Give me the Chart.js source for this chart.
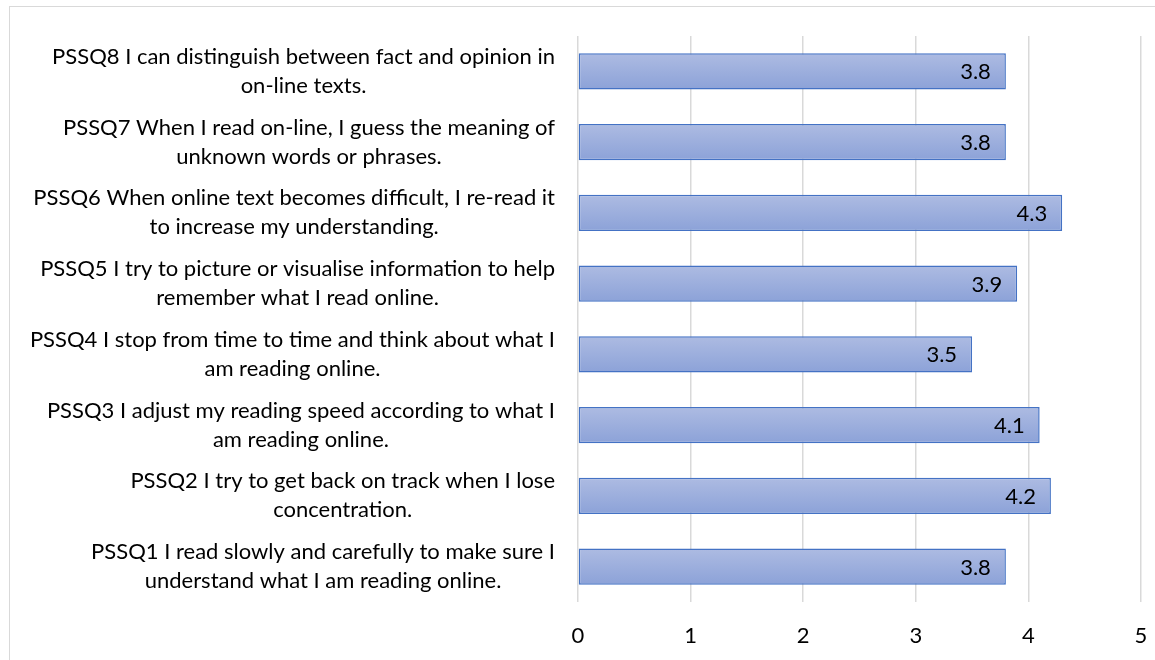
<!DOCTYPE html>
<html>
<head>
<meta charset="utf-8">
<script src="https://cdn.jsdelivr.net/npm/chart.js@4.4.1/dist/chart.umd.min.js"></script>
<style>
    html, body { margin: 0; padding: 0; background: #fff; overflow: hidden; }
    #wrap { position: relative; width: 1155px; height: 660px; overflow: hidden; }
    #frame {
        position: absolute; left: 9px; top: 6px; width: 1300px; height: 800px;
        border: 1.5px solid #d9d9d9; box-sizing: border-box;
    }
    #chart { position: absolute; left: 0; top: 0; }
</style>
</head>
<body>
<div id="wrap">
    <div id="frame"></div>
    <canvas id="chart" width="1155" height="660"></canvas>
</div>
<script>
// categories, bottom to top as in the source sheet
const categories = [
    ['PSSQ1 I read slowly and carefully to make sure I', 'understand what I am reading online.'],
    ['PSSQ2 I try to get back on track when I lose', 'concentration.'],
    ['PSSQ3 I adjust my reading speed according to what I', 'am reading online.'],
    ['PSSQ4 I stop from time to time and think about what I', 'am reading online.'],
    ['PSSQ5 I try to picture or visualise information to help', 'remember what I read online.'],
    ['PSSQ6 When online text becomes difficult, I re-read it', 'to increase my understanding.'],
    ['PSSQ7 When I read on-line, I guess the meaning of', 'unknown words or phrases.'],
    ['PSSQ8 I can distinguish between fact and opinion in', 'on-line texts.']
];
const meanScores = [3.8, 4.2, 4.1, 3.5, 3.9, 4.3, 3.8, 3.8];
const xTicks = [0, 1, 2, 3, 4, 5];

const FONT = 'Lato, "Open Sans", sans-serif';
const FONT_SIZE = 22;
const BAR_PCT = 0.51;

// gradient fill for each bar, light at top, darker at bottom
function barFill(ctx) {
    const chart = ctx.chart;
    const area = chart.chartArea;
    if (!area) return '#9aaedd';
    const yScale = chart.scales.y;
    const cy = yScale.getPixelForValue(ctx.dataIndex);
    const half = (area.height / categories.length) * BAR_PCT / 2;
    const g = chart.ctx.createLinearGradient(0, cy - half, 0, cy + half);
    g.addColorStop(0, '#adbbe2');
    g.addColorStop(1, '#8ca2d8');
    return g;
}

// category labels: block right-aligned, lines centred on each other
const categoryLabels = {
    id: 'categoryLabels',
    afterDraw(chart) {
        const c = chart.ctx;
        const yScale = chart.scales.y;
        const right = chart.chartArea.left - 23;
        const lh = 29;
        c.save();
        c.font = FONT_SIZE + 'px ' + FONT;
        c.fillStyle = '#000';
        c.textAlign = 'center';
        c.textBaseline = 'middle';
        categories.forEach((lines, i) => {
            const cy = yScale.getPixelForValue(i);
            const maxW = Math.max(...lines.map(l => c.measureText(l).width));
            const cx = right - maxW / 2;
            lines.forEach((l, k) => {
                c.fillText(l, cx, cy + (k - (lines.length - 1) / 2) * lh);
            });
        });
        c.restore();
    }
};

// value labels inside the end of each bar
const valueLabels = {
    id: 'valueLabels',
    afterDatasetsDraw(chart) {
        const c = chart.ctx;
        const meta = chart.getDatasetMeta(0);
        c.save();
        c.font = FONT_SIZE + 'px ' + FONT;
        c.fillStyle = '#000';
        c.textAlign = 'right';
        c.textBaseline = 'middle';
        meta.data.forEach((bar, i) => {
            c.fillText(meanScores[i].toFixed(1), bar.x - 15, bar.y + 1);
        });
        c.restore();
    }
};

new Chart(document.getElementById('chart'), {
    type: 'bar',
    data: {
        labels: categories,
        datasets: [{
            data: meanScores,
            backgroundColor: barFill,
            borderColor: '#4472c4',
            borderWidth: 1.5,
            borderSkipped: false,
            categoryPercentage: 1,
            barPercentage: BAR_PCT
        }]
    },
    options: {
        indexAxis: 'y',
        responsive: false,
        animation: false,
        layout: { padding: { left: 0, right: 0, top: 36, bottom: 0 } },
        plugins: { legend: { display: false }, tooltip: { enabled: false } },
        scales: {
            x: {
                min: 0,
                max: 5,
                afterBuildTicks(scale) { scale.ticks = xTicks.map(v => ({ value: v })); },
                afterFit(scale) { scale.height = 58; scale.paddingRight = 14; },
                grid: { color: '#d9d9d9', lineWidth: 1.5, drawTicks: false },
                border: { display: false },
                ticks: { color: '#000', padding: 21, font: { family: FONT, size: FONT_SIZE } }
            },
            y: {
                reverse: true,
                afterFit(scale) { scale.width = 578; },
                grid: { display: false },
                border: { display: false },
                ticks: { display: false }
            }
        }
    },
    plugins: [categoryLabels, valueLabels]
});
</script>
</body>
</html>
